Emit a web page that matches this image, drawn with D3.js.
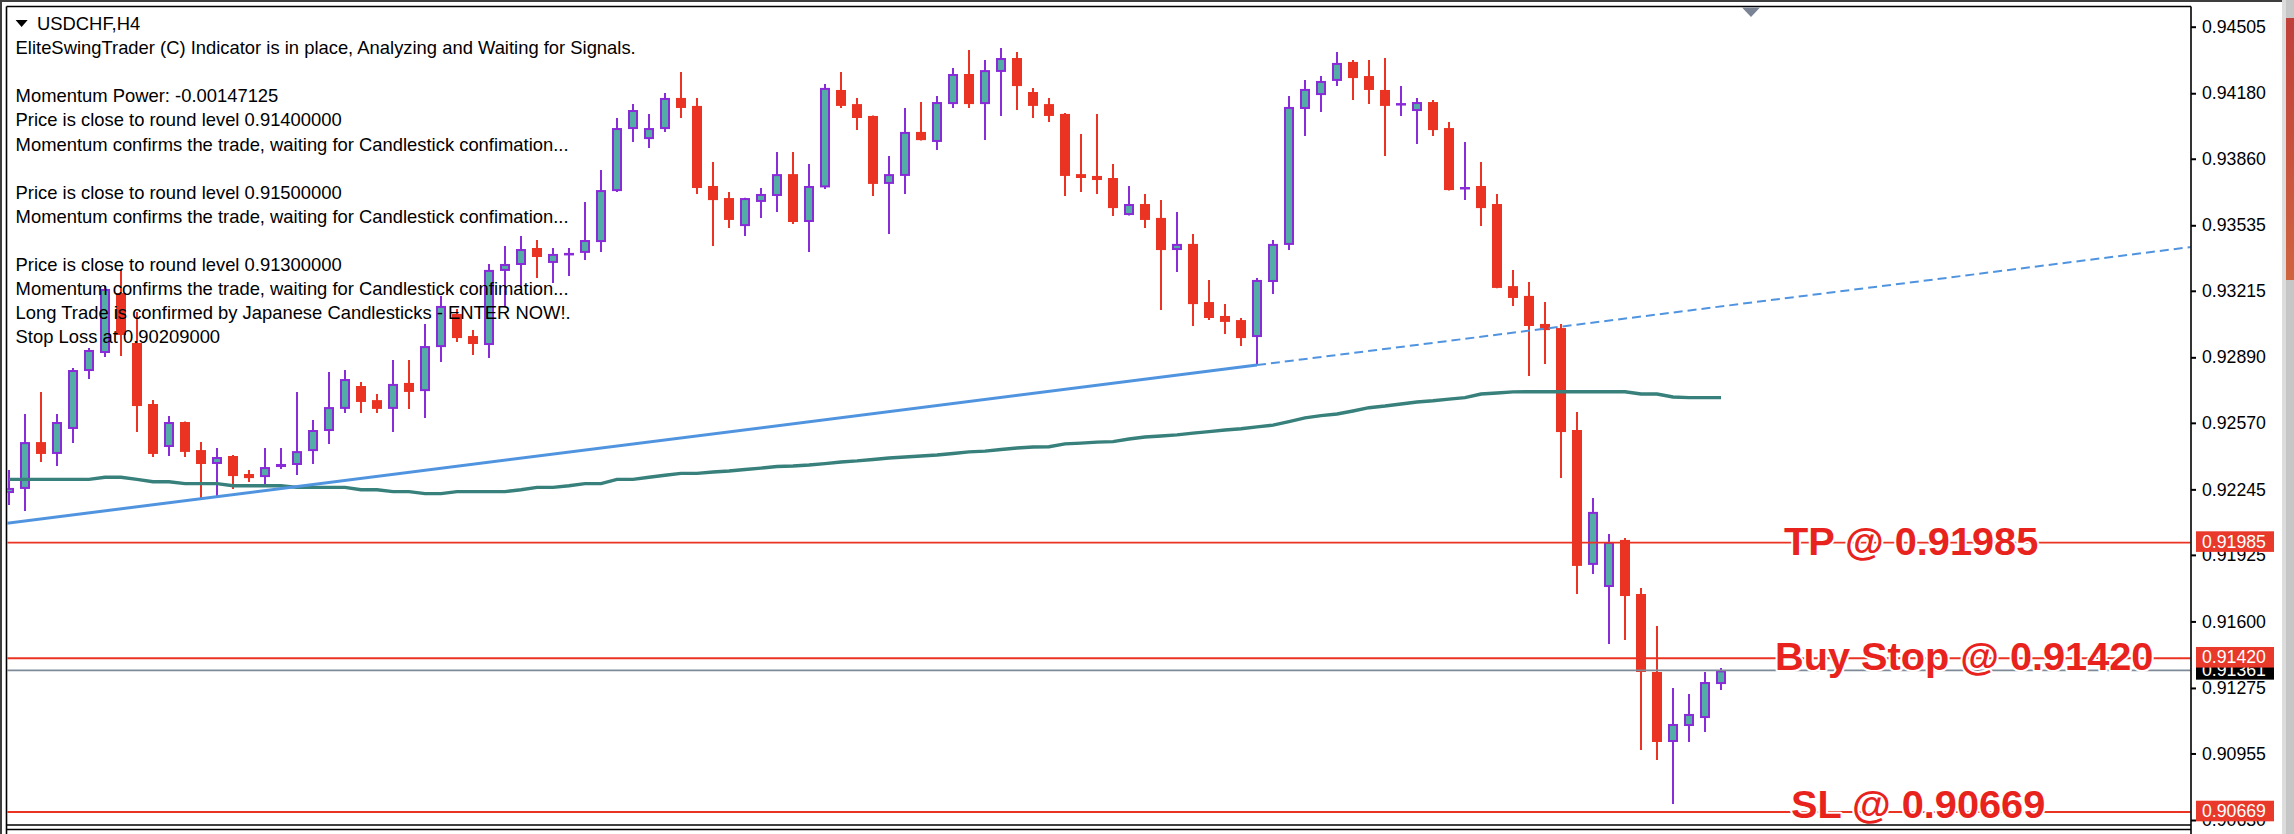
<!DOCTYPE html>
<html>
<head>
<meta charset="utf-8">
<title>USDCHF,H4</title>
<script src="https://cdn.jsdelivr.net/npm/d3@7"></script>
<style>
  html, body { margin: 0; padding: 0; background: #ffffff; }
  svg { display: block; }
</style>
</head>
<body>
<svg id="chart" width="2294" height="834"></svg>
<script>
// ---------------- DATA ----------------
const symbolTitle = "USDCHF,H4";

const candleOpen = [
  0.92227,0.92247,0.92476,0.92418,0.92540,0.92823,0.92911,0.93204,0.92960,0.92662,
  0.92452,0.92574,0.92437,0.92369,0.92408,0.92320,0.92305,0.92354,0.92364,0.92432,
  0.92530,0.92638,0.92750,0.92681,0.92638,0.92765,0.92725,0.92940,0.93102,0.92994,
  0.92950,0.93312,0.93341,0.93424,0.93351,0.93390,0.93400,0.93453,0.93702,0.94005,
  0.93956,0.94005,0.94157,0.94118,0.93727,0.93668,0.93531,0.93649,0.93678,0.93785,
  0.93551,0.93720,0.94196,0.94127,0.94069,0.93737,0.93776,0.93991,0.93942,0.94127,
  0.94274,0.94127,0.94284,0.94352,0.94186,0.94127,0.94079,0.93785,0.93776,0.93766,
  0.93585,0.93639,0.93571,0.93414,0.93444,0.93160,0.93092,0.93072,0.92989,0.93258,
  0.93439,0.94103,0.94171,0.94240,0.94333,0.94264,0.94196,0.94122,0.94093,0.94137,
  0.94010,0.93712,0.93727,0.93639,0.93238,0.93190,0.93053,0.93033,0.92535,0.91876,
  0.91768,0.91998,0.91734,0.91353,0.91011,0.91089,0.91128,0.91294
];
const candleHigh = [
  0.92340,0.92613,0.92721,0.92613,0.92838,0.92935,0.93238,0.93317,0.93111,0.92681,
  0.92603,0.92576,0.92476,0.92447,0.92413,0.92340,0.92447,0.92447,0.92721,0.92584,
  0.92818,0.92828,0.92769,0.92711,0.92877,0.92877,0.93053,0.93190,0.93126,0.93023,
  0.93346,0.93434,0.93483,0.93463,0.93424,0.93424,0.93649,0.93805,0.94059,0.94127,
  0.94079,0.94181,0.94284,0.94157,0.93844,0.93698,0.93670,0.93717,0.93893,0.93893,
  0.93834,0.94225,0.94284,0.94157,0.94071,0.93873,0.94108,0.94137,0.94166,0.94303,
  0.94391,0.94342,0.94401,0.94381,0.94206,0.94157,0.94083,0.93981,0.94079,0.93834,
  0.93727,0.93688,0.93658,0.93600,0.93492,0.93268,0.93150,0.93082,0.93277,0.93463,
  0.94166,0.94245,0.94264,0.94381,0.94342,0.94342,0.94352,0.94215,0.94157,0.94147,
  0.94039,0.93942,0.93844,0.93688,0.93317,0.93258,0.93160,0.93053,0.92623,0.92203,
  0.92027,0.92007,0.91763,0.91578,0.91275,0.91245,0.91353,0.91372
];
const candleLow = [
  0.92169,0.92139,0.92379,0.92359,0.92471,0.92784,0.92892,0.92896,0.92525,0.92403,
  0.92408,0.92403,0.92203,0.92213,0.92247,0.92281,0.92271,0.92344,0.92315,0.92369,
  0.92467,0.92618,0.92618,0.92618,0.92525,0.92638,0.92594,0.92867,0.92965,0.92901,
  0.92887,0.93136,0.93229,0.93277,0.93253,0.93287,0.93365,0.93404,0.93698,0.93942,
  0.93912,0.93991,0.94059,0.93688,0.93434,0.93522,0.93483,0.93571,0.93600,0.93541,
  0.93404,0.93712,0.94108,0.94000,0.93678,0.93492,0.93688,0.93949,0.93903,0.94108,
  0.94108,0.93951,0.94069,0.94098,0.94059,0.94039,0.93678,0.93698,0.93688,0.93580,
  0.93583,0.93522,0.93121,0.93307,0.93043,0.93072,0.93004,0.92945,0.92852,0.93199,
  0.93414,0.93971,0.94088,0.94215,0.94147,0.94127,0.93873,0.94069,0.93932,0.93971,
  0.93705,0.93658,0.93531,0.93227,0.93141,0.92799,0.92857,0.92300,0.91734,0.91832,
  0.91490,0.91509,0.90972,0.90923,0.90708,0.91011,0.91060,0.91265
];
const candleClose = [
  0.92252,0.92476,0.92418,0.92574,0.92828,0.92926,0.93224,0.92999,0.92652,0.92418,
  0.92574,0.92428,0.92369,0.92403,0.92310,0.92300,0.92354,0.92369,0.92432,0.92535,
  0.92647,0.92784,0.92672,0.92638,0.92760,0.92721,0.92945,0.93141,0.92984,0.92955,
  0.93317,0.93346,0.93419,0.93380,0.93395,0.93400,0.93463,0.93707,0.94010,0.94098,
  0.94010,0.94157,0.94108,0.93717,0.93658,0.93561,0.93668,0.93688,0.93785,0.93551,
  0.93727,0.94206,0.94118,0.94059,0.93737,0.93785,0.93991,0.93951,0.94137,0.94274,
  0.94127,0.94293,0.94352,0.94215,0.94118,0.94069,0.93776,0.93766,0.93756,0.93619,
  0.93639,0.93561,0.93414,0.93444,0.93150,0.93082,0.93063,0.92984,0.93268,0.93444,
  0.94113,0.94201,0.94240,0.94328,0.94254,0.94196,0.94118,0.94132,0.94137,0.94000,
  0.93707,0.93722,0.93619,0.93229,0.93180,0.93043,0.93023,0.92525,0.91871,0.92135,
  0.91988,0.91724,0.91353,0.91011,0.91099,0.91148,0.91304,0.91361
];
const maValues = [
  0.92294,0.92294,0.92294,0.92294,0.92294,0.92294,0.92304,0.92304,0.92294,0.92282,
  0.92282,0.92273,0.92273,0.92273,0.92263,0.92263,0.92263,0.92263,0.92255,0.92255,
  0.92255,0.92255,0.92243,0.92243,0.92234,0.92234,0.92224,0.92224,0.92234,0.92234,
  0.92234,0.92234,0.92243,0.92255,0.92255,0.92263,0.92273,0.92273,0.92294,0.92294,
  0.92304,0.92314,0.92323,0.92323,0.92330,0.92335,0.92342,0.92349,0.92357,0.92359,
  0.92364,0.92371,0.92379,0.92384,0.92391,0.92398,0.92403,0.92408,0.92413,0.92420,
  0.92428,0.92432,0.92440,0.92447,0.92452,0.92453,0.92467,0.92471,0.92476,0.92478,
  0.92491,0.92501,0.92506,0.92511,0.92520,0.92527,0.92535,0.92541,0.92550,0.92559,
  0.92576,0.92594,0.92605,0.92613,0.92628,0.92644,0.92652,0.92662,0.92672,0.92678,
  0.92686,0.92693,0.92711,0.92716,0.92721,0.92722,0.92722,0.92722,0.92722,0.92722,
  0.92722,0.92722,0.92711,0.92711,0.92696,0.92693,0.92693,0.92693
];
const priceTicks = [0.94505,0.94180,0.93860,0.93535,0.93215,0.92890,0.92570,0.92245,0.91925,0.91600,0.91275,0.90955,0.90630];
const levelNames = ["TP", "Buy Stop", "SL"];
const levelPrices = [0.91985, 0.91420, 0.90669];
const bidPrice = 0.91361;
const trendIndex = [-0.19, 78];
const trendPrice = [0.92079, 0.92852];
const infoLines = [
  "EliteSwingTrader (C) Indicator is in place, Analyzing and Waiting for Signals.",
  "",
  "Momentum Power: -0.00147125",
  "Price is close to round level 0.91400000",
  "Momentum confirms the trade, waiting for Candlestick confimation...",
  "",
  "Price is close to round level 0.91500000",
  "Momentum confirms the trade, waiting for Candlestick confimation...",
  "",
  "Price is close to round level 0.91300000",
  "Momentum confirms the trade, waiting for Candlestick confimation...",
  "Long Trade is confirmed by Japanese Candlesticks - ENTER NOW!.",
  "Stop Loss at 0.90209000"
];

// ---------------- LAYOUT / STYLE ----------------
const W = 2294, H = 834;
const plotL = 6.5, plotT = 6.5, plotR = 2191, plotB = 825;
const COL = {
  red: "#ea3323", purple: "#8a2bd8", teal: "#53aca5", ma: "#37807b",
  trend: "#5094e0", level: "#ea3323", bid: "#7f8a99", text: "#000000"
};
const FONT = "'Liberation Sans', Arial, sans-serif";

const svg = d3.select("#chart");
const n = candleOpen.length;
const candles = d3.range(n).map(i => ({
  i, o: candleOpen[i], h: candleHigh[i], l: candleLow[i], c: candleClose[i]
}));

const x = d3.scaleLinear().domain([0, n - 1]).range([9, 1721]);
const y = d3.scaleLinear().domain([priceTicks[priceTicks.length - 1], priceTicks[0]]).range([820, 26.7]);

// background
svg.append("rect").attr("width", W).attr("height", H).attr("fill", "#ffffff");

// window chrome
svg.append("rect").attr("x", 0).attr("y", 0).attr("width", 2282).attr("height", 2).attr("fill", "#3e3e3e");
svg.append("rect").attr("x", 0).attr("y", 0).attr("width", 2).attr("height", H).attr("fill", "#3e3e3e");

// scrollbar at right
const defs = svg.append("defs");
const grad = defs.append("linearGradient").attr("id", "thumbGrad")
  .attr("x1", 0).attr("y1", 0).attr("x2", 0).attr("y2", 1);
grad.append("stop").attr("offset", "0%").attr("stop-color", "#c0403a");
grad.append("stop").attr("offset", "100%").attr("stop-color", "#cf6440");
svg.append("rect").attr("x", 2282).attr("y", 0).attr("width", 12).attr("height", H).attr("fill", "#dcdcdc");
svg.append("rect").attr("x", 2286).attr("y", 0).attr("width", 8).attr("height", H).attr("fill", "#c6c6c6");
svg.append("rect").attr("x", 2286).attr("y", 18).attr("width", 8).attr("height", 262).attr("fill", "url(#thumbGrad)");

// clip
defs.append("clipPath").attr("id", "plotClip")
  .append("rect").attr("x", plotL + 1).attr("y", plotT + 1)
  .attr("width", plotR - plotL - 1.5).attr("height", plotB - plotT - 2);

const plotG = svg.append("g").attr("clip-path", "url(#plotClip)");

// candles
const cg = plotG.append("g").attr("class", "candles");
cg.selectAll("line.wick").data(candles).join("line")
  .attr("class", "wick")
  .attr("x1", d => x(d.i)).attr("x2", d => x(d.i))
  .attr("y1", d => y(d.h)).attr("y2", d => y(d.l))
  .attr("stroke", d => d.c >= d.o ? COL.purple : COL.red)
  .attr("stroke-width", 2);

cg.selectAll("rect.bear").data(candles.filter(d => d.c < d.o)).join("rect")
  .attr("class", "bear")
  .attr("x", d => x(d.i) - 5).attr("width", 10)
  .attr("y", d => y(d.o))
  .attr("height", d => Math.max(2, y(d.c) - y(d.o)))
  .attr("fill", COL.red);

cg.selectAll("rect.bull").data(candles.filter(d => d.c >= d.o)).join("rect")
  .attr("class", "bull")
  .attr("x", d => x(d.i) - 4).attr("width", 8)
  .attr("y", d => y(d.c) + 1)
  .attr("height", d => Math.max(0.5, y(d.o) - y(d.c) - 2))
  .attr("fill", COL.teal)
  .attr("stroke", COL.purple)
  .attr("stroke-width", 2);

// moving average
plotG.append("path")
  .datum(maValues)
  .attr("d", d3.line().x((d, i) => x(i)).y(d => y(d)))
  .attr("fill", "none").attr("stroke", COL.ma).attr("stroke-width", 3.4);

// trend line (solid between anchors, dashed ray beyond)
const trendScale = d3.scaleLinear().domain(trendIndex).range(trendPrice);
const rayEnd = x.invert(plotR);
plotG.append("line")
  .attr("x1", x(trendIndex[0])).attr("y1", y(trendPrice[0]))
  .attr("x2", x(trendIndex[1])).attr("y2", y(trendPrice[1]))
  .attr("stroke", COL.trend).attr("stroke-width", 3);
plotG.append("line")
  .attr("x1", x(trendIndex[1])).attr("y1", y(trendPrice[1]))
  .attr("x2", x(rayEnd)).attr("y2", y(trendScale(rayEnd)))
  .attr("stroke", COL.trend).attr("stroke-width", 2)
  .attr("stroke-dasharray", "9,5");

// horizontal level lines
plotG.append("line")
  .attr("x1", plotL).attr("x2", plotR)
  .attr("y1", y(bidPrice)).attr("y2", y(bidPrice))
  .attr("stroke", COL.bid).attr("stroke-width", 1.8);
plotG.selectAll("line.level").data(levelPrices).join("line")
  .attr("class", "level")
  .attr("x1", plotL).attr("x2", plotR)
  .attr("y1", d => y(d)).attr("y2", d => y(d))
  .attr("stroke", COL.level).attr("stroke-width", 1.8);

// big level labels
const labelX = [1784, 1775, 1791];
const labelDy = [12.5, 12, 6];
svg.selectAll("text.levelLabel").data(levelPrices).join("text")
  .attr("class", "levelLabel")
  .attr("x", (d, i) => labelX[i])
  .attr("y", (d, i) => y(d) + labelDy[i])
  .text((d, i) => `${levelNames[i]} @ ${d.toFixed(5)}`)
  .attr("font-family", FONT).attr("font-weight", "bold").attr("font-size", "39.7px")
  .attr("fill", "#e8231e")
  .attr("stroke", "#ffffff").attr("stroke-width", 4).attr("stroke-linejoin", "round")
  .attr("paint-order", "stroke");

// frame
const frame = svg.append("g").attr("stroke", "#000").attr("stroke-width", 1.6).attr("fill", "none");
frame.append("line").attr("x1", plotL).attr("x2", plotL).attr("y1", plotT).attr("y2", H);
frame.append("line").attr("x1", plotL).attr("x2", plotR).attr("y1", plotT).attr("y2", plotT);
frame.append("line").attr("x1", plotR).attr("x2", plotR).attr("y1", plotT).attr("y2", H);
frame.append("line").attr("x1", plotL).attr("x2", plotR).attr("y1", plotB).attr("y2", plotB);
frame.append("line").attr("x1", plotL).attr("x2", plotR).attr("y1", plotB + 4.5).attr("y2", plotB + 4.5);

// price axis
const axisG = svg.append("g").attr("transform", `translate(${plotR},0)`)
  .call(d3.axisRight(y).tickValues(priceTicks).tickSize(5).tickPadding(6).tickFormat(d3.format(".5f")));
axisG.select(".domain").remove();
axisG.selectAll(".tick line").attr("stroke", "#000").attr("stroke-width", 2);
axisG.selectAll(".tick text").attr("font-family", FONT).attr("font-size", "17.7px").attr("fill", "#000");

// price tags
function priceTag(price, color) {
  const g = svg.append("g");
  g.append("rect").attr("x", 2196).attr("y", y(price) - 11.3).attr("width", 78).attr("height", 20.6).attr("fill", color);
  g.append("text").attr("x", 2202).attr("y", y(price) - 1).attr("dy", "0.35em")
    .attr("font-family", FONT).attr("font-size", "17.7px").attr("fill", "#ffffff")
    .text(d3.format(".5f")(price));
}
priceTag(bidPrice, "#000000");
levelPrices.forEach(p => priceTag(p, "#e8392a"));

// info text
svg.append("path").attr("d", "M15.6,20 L27.7,20 L21.6,27 Z").attr("fill", "#000");
svg.append("text").attr("x", 37).attr("y", 30)
  .attr("font-family", FONT).attr("font-size", "18.4px").attr("fill", COL.text)
  .text(symbolTitle);
svg.selectAll("text.info").data(infoLines).join("text")
  .attr("class", "info")
  .attr("x", 15.6).attr("y", (d, i) => 30 + 24.1 * (i + 1))
  .attr("font-family", FONT).attr("font-size", "18.4px").attr("fill", COL.text)
  .text(d => d);

// chart shift marker
svg.append("path").attr("d", "M1742,7.5 L1760,7.5 L1751,17 Z").attr("fill", "#7a8494");
</script>
</body>
</html>
